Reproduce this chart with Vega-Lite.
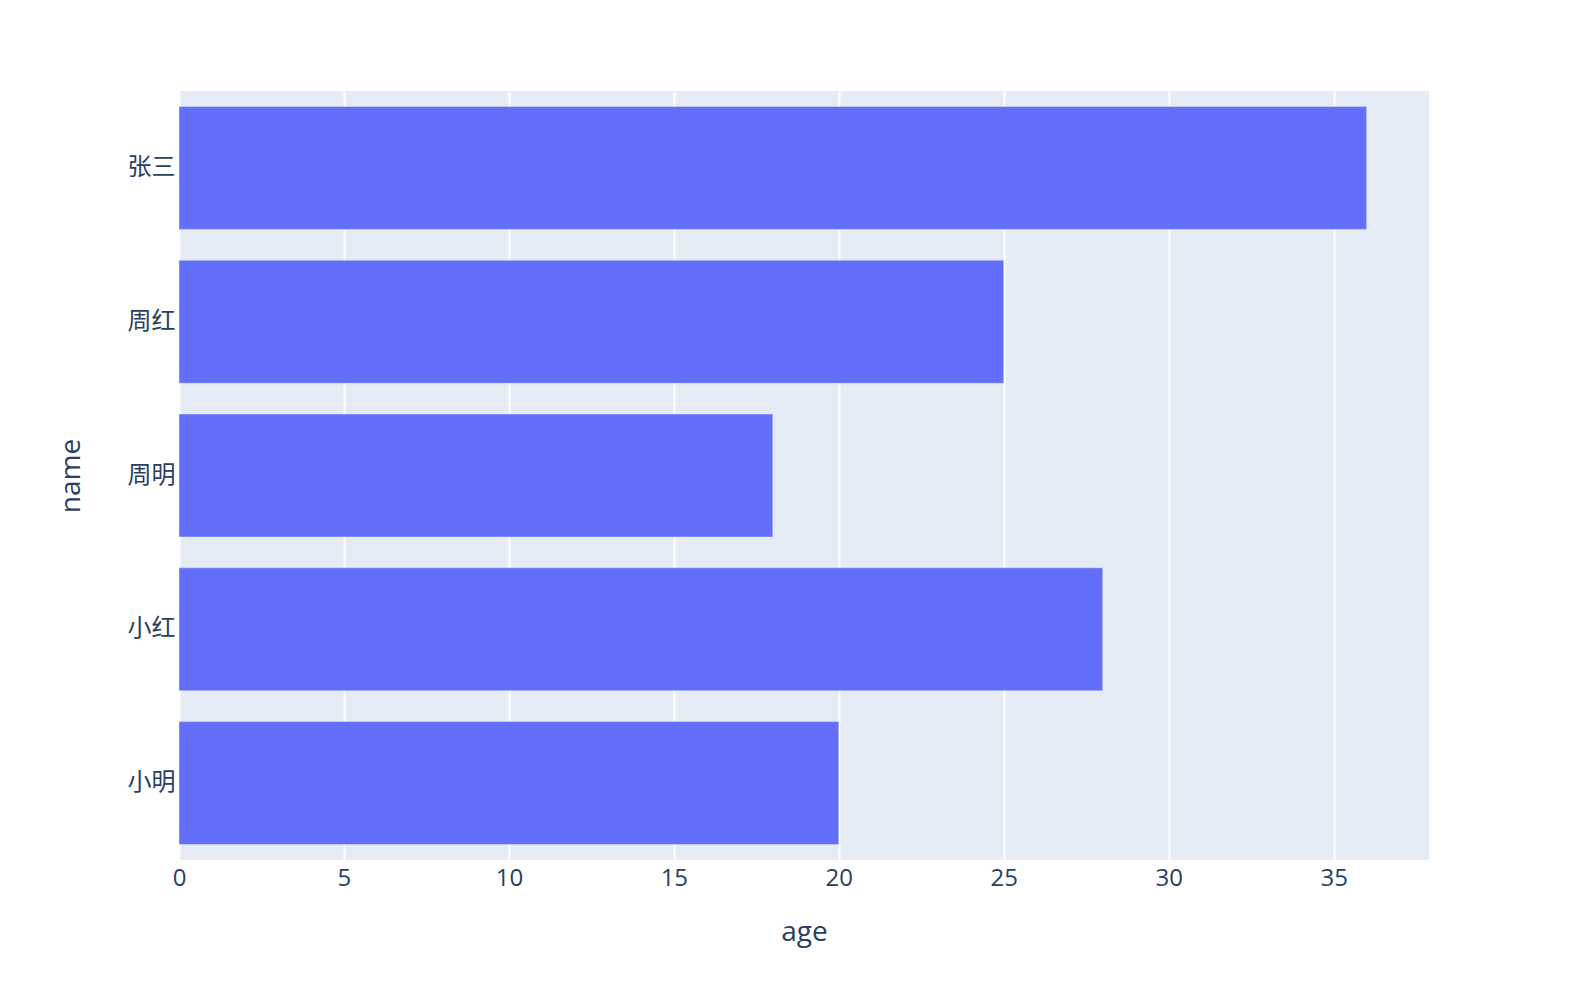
{
  "$schema": "https://vega.github.io/schema/vega-lite/v6.json",
  "autosize": {"type": "none"},
  "padding": {"left": 179, "top": 91, "right": 151, "bottom": 148},
  "width": 1250,
  "height": 769,
  "background": "white",
  "view": {"fill": "#E5ECF6", "stroke": null},
  "data": {
    "values": [
      {"name": "小明", "age": 20},
      {"name": "小红", "age": 28},
      {"name": "周明", "age": 18},
      {"name": "周红", "age": 25},
      {"name": "张三", "age": 36}
    ]
  },
  "mark": {"type": "bar", "color": "#636EFA", "stroke": "#E5ECF6", "strokeWidth": 0.5},
  "encoding": {
    "y": {
      "field": "name",
      "type": "nominal",
      "sort": ["张三", "周红", "周明", "小红", "小明"],
      "scale": {"paddingInner": 0.2, "paddingOuter": 0.1},
      "axis": {
        "title": "name",
        "domain": false,
        "ticks": false,
        "grid": false,
        "labelPadding": 4,
        "labelFont": "Open Sans, Noto Sans CJK SC",
        "labelFontSize": 24,
        "labelColor": "#2a3f5f",
        "titleFont": "Open Sans",
        "titleFontSize": 28,
        "titleFontWeight": "normal",
        "titleColor": "#2a3f5f",
        "titlePadding": 42
      }
    },
    "x": {
      "field": "age",
      "type": "quantitative",
      "scale": {"domain": [0, 37.89], "nice": false, "zero": true},
      "axis": {
        "title": "age",
        "values": [0, 5, 10, 15, 20, 25, 30, 35],
        "domain": false,
        "ticks": false,
        "grid": true,
        "gridColor": "white",
        "gridWidth": 2,
        "labelPadding": 6,
        "labelFont": "Open Sans",
        "labelFontSize": 24,
        "labelColor": "#2a3f5f",
        "labelFlush": false,
        "titleFont": "Open Sans",
        "titleFontSize": 28,
        "titleFontWeight": "normal",
        "titleColor": "#2a3f5f",
        "titlePadding": 28
      }
    }
  }
}
